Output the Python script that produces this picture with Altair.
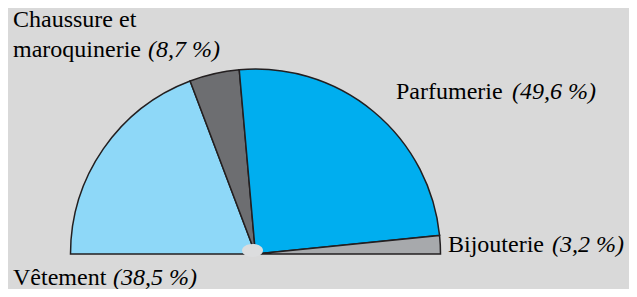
import math
import altair as alt
import pandas as pd

# --- data ---
categories = ["Vêtement", "Chaussure et maroquinerie", "Parfumerie", "Bijouterie"]
shares = [38.5, 8.7, 49.6, 3.2]
pct_labels = ["(38,5 %)", "(8,7 %)", "(49,6 %)", "(3,2 %)"]
colors = ["#8ED8F8", "#6D6E71", "#00AEEF", "#A7A9AC"]

df = pd.DataFrame({"cat": categories, "value": shares, "order": list(range(len(categories)))})

BG = "#D9D9D9"
W, H = 600, 280
CX, CY, R = 247.5, 246, 185
FONT = "Times New Roman"
FS = 24

pie = alt.Chart(df).mark_arc(stroke="#231F20", strokeWidth=1.5, radius=R).encode(
    theta=alt.Theta("value:Q", stack=True,
                    scale=alt.Scale(type="linear", domain=[0, 100], range=[-math.pi / 2, math.pi / 2])),
    order=alt.Order("order:Q"),
    color=alt.Color("cat:N", scale=alt.Scale(domain=categories, range=colors), legend=None),
    x=alt.value(CX),
    y=alt.value(CY),
)

hub = alt.Chart(pd.DataFrame({"a": [0]})).mark_point(
    shape="M-1,0 A1,0.62 0 1,0 1,0 A1,0.62 0 1,0 -1,0 Z",
    filled=True, fill="#DCDDDE", size=441, opacity=1,
).encode(x=alt.value(244.5), y=alt.value(242.5))

# label layout: (text, x, y, italic)
label_layout = [
    ("Chaussure et", 5, 19, False),
    ("maroquinerie", 5, 49, False),
    (pct_labels[1], 140, 49, True),
    ("Parfumerie", 388, 91, False),
    (pct_labels[2], 504, 91, True),
    ("Bijouterie", 440, 244, False),
    (pct_labels[3], 544, 244, True),
    ("Vêtement", 5, 277, False),
    (pct_labels[0], 105, 277, True),
]

texts = []
for t, x, y, it in label_layout:
    kw = dict(align="left", baseline="alphabetic", font=FONT, fontSize=FS)
    if it:
        kw["fontStyle"] = "italic"
    texts.append(
        alt.Chart(pd.DataFrame({"t": [t]})).mark_text(**kw).encode(
            text="t:N", x=alt.value(x), y=alt.value(y))
    )

chart = alt.layer(pie, hub, *texts).properties(
    width=W, height=H, background=BG,
    padding={"left": 0, "top": 0, "right": 21, "bottom": 1},
    autosize=alt.AutoSizeParams(type="none"),
).configure_view(strokeWidth=0)

chart.save("out.html", embed_options={"renderer": "svg", "actions": False})
